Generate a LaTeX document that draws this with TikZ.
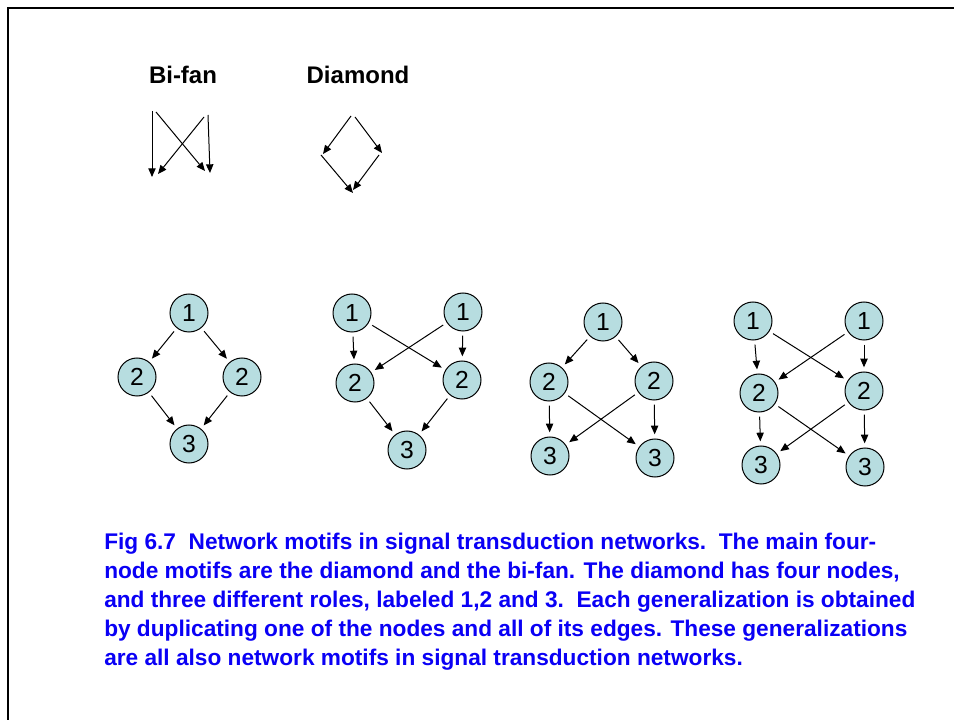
\documentclass[tikz,border=0pt]{standalone}
\usepackage{fontspec}
\setmainfont{Liberation Sans}
\usetikzlibrary{arrows.meta}

\definecolor{nodefill}{RGB}{183,221,224}
\definecolor{capblue}{RGB}{10,0,245}

\begin{document}
\begin{tikzpicture}[
    x=0.75pt, y=-0.75pt, % one unit is one pixel of the slide
    >={Triangle[length=6.5pt,width=5.5pt]}, % Set default arrow tip style
    edge/.style={->, line width=0.75pt}, % Style for the motif arrows
    motif/.style={circle, draw, line width=0.75pt, fill=nodefill, minimum size=28.5pt, inner sep=0pt, outer sep=3.5pt, font=\fontsize{18.5pt}{21pt}\selectfont}, % Style for the round nodes
    heading/.style={font=\fontsize{18pt}{21pt}\selectfont\bfseries}, % Style for Bi-fan / Diamond
    caption/.style={align=left, inner sep=0pt, text=capblue, font=\fontsize{17pt}{21.75pt}\selectfont\bfseries} % Style for the figure text
]
    \useasboundingbox (0,0) rectangle (954,720);

    % Slide frame
    \draw[line width=1.6pt] (8,720) -- (8,8) -- (954,8);

    % Headings
    \node[heading, anchor=base] (bifan) at (183,84) {Bi-fan};
    \node[heading, anchor=base] (diamond) at (358,84) {Diamond};

    % Bi-fan sketch
    \coordinate (bfa) at (152,111); \coordinate (bfb) at (152,177);
    \coordinate (bfc) at (156,112); \coordinate (bfd) at (205,171);
    \coordinate (bfe) at (204,117); \coordinate (bff) at (158,174);
    \coordinate (bfg) at (208,115); \coordinate (bfh) at (210,173);
    \draw[edge] (bfa) -- (bfb);
    \draw[edge] (bfc) -- (bfd);
    \draw[edge] (bfe) -- (bff);
    \draw[edge] (bfg) -- (bfh);

    % Diamond sketch
    \coordinate (dma) at (351,116); \coordinate (dmb) at (323,154);
    \coordinate (dmc) at (355,117); \coordinate (dmd) at (382,153);
    \coordinate (dme) at (321,155); \coordinate (dmf) at (353,193);
    \coordinate (dmg) at (379,155); \coordinate (dmh) at (353,190);
    \draw[edge] (dma) -- (dmb);
    \draw[edge] (dmc) -- (dmd);
    \draw[edge] (dme) -- (dmf);
    \draw[edge] (dmg) -- (dmh);

    % Diamond with roles
    \node[motif] (a1) at (189,313) {1};
    \node[motif] (a2l) at (137,377) {2};
    \node[motif] (a2r) at (242,377) {2};
    \node[motif] (a3) at (189,444) {3};
    \draw[edge] (a1) -- (a2l);
    \draw[edge] (a1) -- (a2r);
    \draw[edge] (a2l) -- (a3);
    \draw[edge] (a2r) -- (a3);

    % Node 1 duplicated
    \node[motif] (b1l) at (352,313) {1};
    \node[motif] (b1r) at (463,312) {1};
    \node[motif] (b2l) at (355,383) {2};
    \node[motif] (b2r) at (462,380) {2};
    \node[motif] (b3) at (407,450) {3};
    \draw[edge] (b1l) -- (b2l);
    \draw[edge] (b1l) -- (b2r);
    \draw[edge] (b1r) -- (b2l);
    \draw[edge] (b1r) -- (b2r);
    \draw[edge] (b2l) -- (b3);
    \draw[edge] (b2r) -- (b3);

    % Node 3 duplicated
    \node[motif] (c1) at (603,322) {1};
    \node[motif] (c2l) at (549,382) {2};
    \node[motif] (c2r) at (654,381) {2};
    \node[motif] (c3l) at (550,456) {3};
    \node[motif] (c3r) at (655,458) {3};
    \draw[edge] (c1) -- (c2l);
    \draw[edge] (c1) -- (c2r);
    \draw[edge] (c2l) -- (c3l);
    \draw[edge] (c2l) -- (c3r);
    \draw[edge] (c2r) -- (c3l);
    \draw[edge] (c2r) -- (c3r);

    % Nodes 1 and 3 duplicated
    \node[motif] (d1l) at (753,321) {1};
    \node[motif] (d1r) at (864,321) {1};
    \node[motif] (d2l) at (759,393) {2};
    \node[motif] (d2r) at (864,391) {2};
    \node[motif] (d3l) at (761,465) {3};
    \node[motif] (d3r) at (865,467) {3};
    \draw[edge] (d1l) -- (d2l);
    \draw[edge] (d1l) -- (d2r);
    \draw[edge] (d1r) -- (d2l);
    \draw[edge] (d1r) -- (d2r);
    \draw[edge] (d2l) -- (d3l);
    \draw[edge] (d2l) -- (d3r);
    \draw[edge] (d2r) -- (d3l);
    \draw[edge] (d2r) -- (d3r);

    % Figure text
    \node[caption, anchor=north west] (cap) at (104,533) {Fig 6.7\ \ Network motifs in signal transduction networks.\ \ The main four-\\
node motifs are the diamond and the bi-fan. The diamond has four nodes,\\
and three different roles, labeled 1,2 and 3.\ \ Each generalization is obtained\\
by duplicating one of the nodes and all of its edges. These generalizations\\
are all also network motifs in signal transduction networks.};

\end{tikzpicture}
\end{document}
